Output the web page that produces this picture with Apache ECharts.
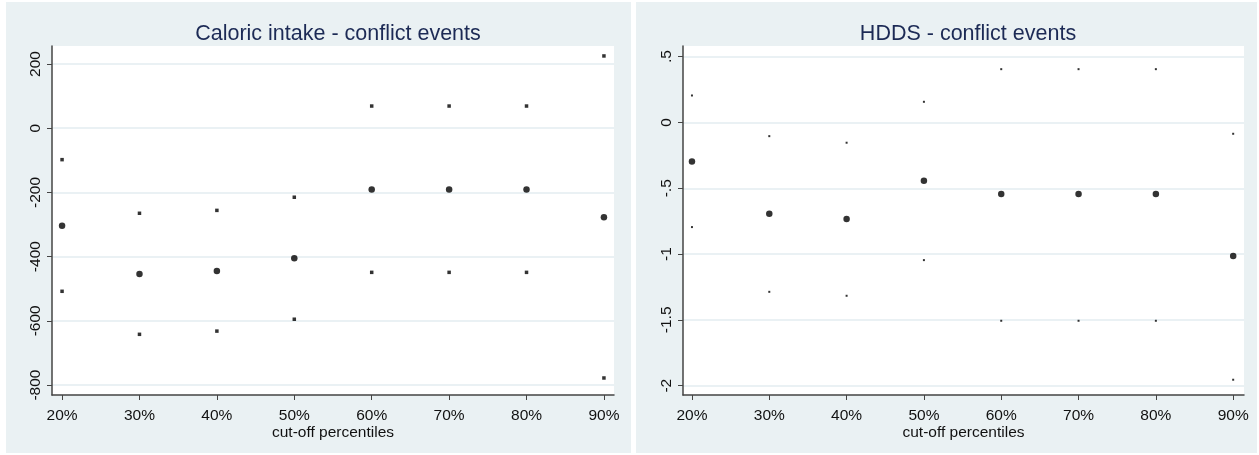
<!DOCTYPE html>
<html>
<head>
<meta charset="utf-8">
<script src="https://cdn.jsdelivr.net/npm/echarts@6/dist/echarts.min.js"></script>
<style>
html,body{margin:0;padding:0;background:#fff;}
#c{width:1259px;height:455px;}
</style>
</head>
<body>
<div id="c"></div>
<script>
// ---- data ----
var percentiles = [20, 30, 40, 50, 60, 70, 80, 90];
var xTicks = [20, 30, 40, 50, 60, 70, 80, 90];

var caloricEst   = [-304, -454, -445, -405, -191, -191, -191, -277];
var caloricUpper = [-98, -265, -256, -215, 69, 69, 69, 225];
var caloricLower = [-508, -642, -632, -595, -449, -449, -449, -778];
var caloricTicks = [-800, -600, -400, -200, 0, 200];

var hddsEst   = [-0.296, -0.694, -0.734, -0.443, -0.544, -0.544, -0.544, -1.015];
var hddsUpper = [0.205, -0.104, -0.154, 0.157, 0.405, 0.405, 0.405, -0.086];
var hddsLower = [-0.795, -1.287, -1.317, -1.046, -1.507, -1.507, -1.507, -1.955];
var hddsTicks = [-2, -1.5, -1, -0.5, 0, 0.5];

var titles = ['Caloric intake - conflict events', 'HDDS - conflict events'];
var xName = 'cut-off percentiles';

function pairs(xs, ys) { return xs.map(function (x, i) { return [x, ys[i]]; }); }
function stataNum(v) { return String(v).replace(/^(-?)0\./, '$1.'); }

var FONT = '"Liberation Sans", Arial, sans-serif';
var axisCol = '#444';
var gridCol = '#e3ecf0';
var panelBg = '#eaf1f3';

function xAxis(gi) {
  return {
    type: 'value', gridIndex: gi, min: 18.7, max: 91.3,
    name: xName, nameLocation: 'middle', nameGap: 30, nameMoveOverlap: false,
    nameTextStyle: { fontFamily: FONT, fontSize: 15.5, color: '#111' },
    axisLine: { show: true, onZero: false, lineStyle: { color: axisCol, width: 1.5 } },
    axisTick: { show: true, length: 5, lineStyle: { color: axisCol }, customValues: xTicks },
    axisLabel: { customValues: xTicks, formatter: function (v) { return v + '%'; },
      fontFamily: FONT, fontSize: 15.5, color: '#111', margin: 13 },
    splitLine: { show: false }
  };
}
function yAxis(gi, min, max, ticks, fmt) {
  return {
    type: 'value', gridIndex: gi, min: min, max: max,
    axisLine: { show: true, onZero: false, lineStyle: { color: axisCol, width: 1.5 } },
    axisTick: { show: true, length: 5, lineStyle: { color: axisCol }, customValues: ticks },
    axisLabel: { customValues: ticks, rotate: 90, formatter: fmt,
      fontFamily: FONT, fontSize: 15.5, color: '#111', margin: 8 },
    splitLine: { show: true, lineStyle: { color: gridCol, width: 1.5 } }
  };
}
function pts(gi, data, size, sym) {
  return {
    type: 'scatter', xAxisIndex: gi, yAxisIndex: gi, data: data,
    symbol: sym, symbolSize: size, itemStyle: { color: '#000' },
    silent: true, animation: false
  };
}

var chart = echarts.init(document.getElementById('c'), null, { renderer: 'canvas' });
chart.setOption({
  backgroundColor: '#fff',
  animation: false,
  graphic: [
    { type: 'rect', shape: { x: 6, y: 2, width: 625, height: 451 }, style: { fill: panelBg }, z: -10 },
    { type: 'rect', shape: { x: 636, y: 2, width: 621, height: 451 }, style: { fill: panelBg }, z: -10 }
  ],
  title: [
    { text: titles[0], left: 333, top: 18, textAlign: 'center',
      textStyle: { fontFamily: FONT, fontSize: 21.5, fontWeight: 'normal', color: '#1c2a55' } },
    { text: titles[1], left: 963, top: 18, textAlign: 'center',
      textStyle: { fontFamily: FONT, fontSize: 21.5, fontWeight: 'normal', color: '#1c2a55' } }
  ],
  grid: [
    { left: 52, top: 46, width: 562, height: 349, show: true, backgroundColor: '#fff', borderWidth: 0 },
    { left: 683, top: 46, width: 561, height: 349, show: true, backgroundColor: '#fff', borderWidth: 0 }
  ],
  xAxis: [xAxis(0), Object.assign(xAxis(1), { min: 18.84, max: 91.4 })],
  yAxis: [
    yAxis(0, -831, 256, caloricTicks, function (v) { return String(v); }),
    yAxis(1, -2.071, 0.581, hddsTicks, stataNum)
  ],
  series: [
    pts(0, pairs(percentiles, caloricEst), 6.5, 'circle'),
    pts(0, pairs(percentiles, caloricUpper), 3.5, 'rect'),
    pts(0, pairs(percentiles, caloricLower), 3.5, 'rect'),
    pts(1, pairs(percentiles, hddsEst), 6.5, 'circle'),
    pts(1, pairs(percentiles, hddsUpper), 2, 'rect'),
    pts(1, pairs(percentiles, hddsLower), 2, 'rect')
  ]
});
</script>
</body>
</html>
